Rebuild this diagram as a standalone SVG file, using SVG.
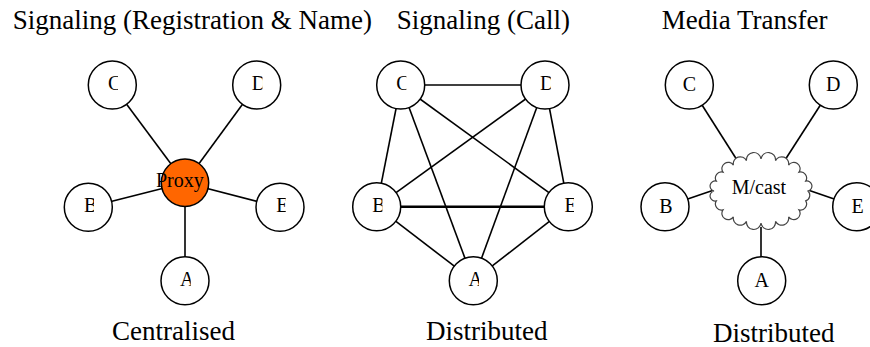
<svg xmlns="http://www.w3.org/2000/svg" width="870" height="347" viewBox="0 0 870 347">
<style>
.bg{fill:#ffffff}
.title{font-family:"Liberation Serif","Times New Roman",serif;font-size:27px;fill:#000}
.lbl{font-family:"Liberation Serif","Times New Roman",serif;font-size:20px;fill:#000;text-anchor:middle}
.plain{font-family:"Liberation Serif","Times New Roman",serif;font-size:20px;fill:#000}
.node{fill:#ffffff;stroke:#000;stroke-width:1.5}
.proxy{fill:#ff6600;stroke:#000;stroke-width:1.5}
.cloud{fill:#ffffff;stroke:#444;stroke-width:1.2}
.edge{stroke:#000;stroke-width:1.6;fill:none}
.thick{stroke-width:2.6}
</style>
<defs>
<clipPath id="lblclip" clipPathUnits="userSpaceOnUse"><rect x="-12" y="-14" width="17.7" height="26"/></clipPath>
</defs>
<rect class="bg" x="0" y="0" width="870" height="347"/>

<g id="titles">
<text class="title" x="12.7" y="29">Signaling (Registration &amp; Name)</text>
<text class="title" x="396.7" y="29">Signaling (Call)</text>
<text class="title" x="661.7" y="29">Media Transfer</text>
<text class="title" x="112" y="340">Centralised</text>
<text class="title" x="426" y="340">Distributed</text>
<text class="title" x="713" y="342">Distributed</text>
</g>

<g id="connectors">
<!-- panel 1 -->
<line class="edge" x1="112.3" y1="85" x2="185" y2="182.7"/>
<line class="edge" x1="256.7" y1="85" x2="185" y2="182.7"/>
<line class="edge" x1="88.3" y1="207.3" x2="185" y2="182.7"/>
<line class="edge" x1="280" y1="207.3" x2="185" y2="182.7"/>
<line class="edge" x1="185" y1="280.7" x2="185" y2="182.7"/>
<!-- panel 2 -->
<line class="edge" x1="400.7" y1="85" x2="545" y2="85"/>
<line class="edge" x1="400.7" y1="85" x2="376.7" y2="206.7"/>
<line class="edge" x1="400.7" y1="85" x2="473.3" y2="280.7"/>
<line class="edge" x1="400.7" y1="85" x2="568.3" y2="206.7"/>
<line class="edge" x1="545" y1="85" x2="376.7" y2="206.7"/>
<line class="edge" x1="545" y1="85" x2="473.3" y2="280.7"/>
<line class="edge" x1="545" y1="85" x2="568.3" y2="206.7"/>
<line class="edge thick" x1="376.7" y1="206.7" x2="568.3" y2="206.7"/>
<line class="edge" x1="376.7" y1="206.7" x2="473.3" y2="280.7"/>
<line class="edge" x1="568.3" y1="206.7" x2="473.3" y2="280.7"/>
<!-- panel 3 -->
<line class="edge" x1="689.3" y1="85" x2="737" y2="160"/>
<line class="edge" x1="833.3" y1="85" x2="785" y2="160"/>
<line class="edge" x1="665" y1="206.7" x2="714" y2="190"/>
<line class="edge" x1="856.7" y1="206.7" x2="808" y2="190"/>
<line class="edge" x1="761" y1="280.7" x2="761" y2="227"/>
</g>

<!-- panel 1 nodes -->
<g id="p1-C" transform="translate(112.3,85)"><circle class="node" r="24"/><text class="lbl" x="2.3" y="5" clip-path="url(#lblclip)">C</text></g>
<g id="p1-D" transform="translate(256.7,85)"><circle class="node" r="24"/><text class="lbl" x="2.3" y="5" clip-path="url(#lblclip)">D</text></g>
<g id="p1-B" transform="translate(88.3,207.3)"><circle class="node" r="24"/><text class="lbl" x="2.3" y="5" clip-path="url(#lblclip)">B</text></g>
<g id="p1-E" transform="translate(280,207.3)"><circle class="node" r="24"/><text class="lbl" x="2.3" y="5" clip-path="url(#lblclip)">E</text></g>
<g id="p1-A" transform="translate(185,280.7)"><circle class="node" r="24"/><text class="lbl" x="2.3" y="5" clip-path="url(#lblclip)">A</text></g>
<g id="p1-Proxy" transform="translate(185,182.7)"><circle class="proxy" r="23.7"/><text class="plain" x="-29" y="4">Proxy</text></g>

<!-- panel 2 nodes -->
<g id="p2-C" transform="translate(400.7,85)"><circle class="node" r="24"/><text class="lbl" x="2.3" y="5" clip-path="url(#lblclip)">C</text></g>
<g id="p2-D" transform="translate(545,85)"><circle class="node" r="24"/><text class="lbl" x="2.3" y="5" clip-path="url(#lblclip)">D</text></g>
<g id="p2-B" transform="translate(376.7,206.7)"><circle class="node" r="24"/><text class="lbl" x="2.3" y="5" clip-path="url(#lblclip)">B</text></g>
<g id="p2-E" transform="translate(568.3,206.7)"><circle class="node" r="24"/><text class="lbl" x="2.3" y="5" clip-path="url(#lblclip)">E</text></g>
<g id="p2-A" transform="translate(473.3,280.7)"><circle class="node" r="24"/><text class="lbl" x="2.3" y="5" clip-path="url(#lblclip)">A</text></g>

<!-- panel 3 nodes -->
<g id="p3-C" transform="translate(689.3,85)"><circle class="node" r="24"/><text class="lbl" x="0" y="6">C</text></g>
<g id="p3-D" transform="translate(833.3,85)"><circle class="node" r="24"/><text class="lbl" x="0" y="6">D</text></g>
<g id="p3-B" transform="translate(665,206.7)"><circle class="node" r="24"/><text class="lbl" x="1" y="6">B</text></g>
<g id="p3-E" transform="translate(856.7,206.7)"><circle class="node" r="24"/><text class="lbl" x="1" y="6">E</text></g>
<g id="p3-A" transform="translate(761.7,280.7)"><circle class="node" r="24"/><text class="lbl" x="0" y="6">A</text></g>
<g id="p3-Mcast">
<path class="cloud" d="M808,191 A6,6 0 0 1 805.7,200.9 A6,6 0 0 1 799,209.8 A6,6 0 0 1 788.6,216.9 A7,7 0 0 1 775.5,221.4 A7,7 0 0 1 761,223 A7,7 0 0 1 746.5,221.4 A7,7 0 0 1 733.4,216.9 A6,6 0 0 1 723,209.8 A6,6 0 0 1 716.3,200.9 A5,5 0 0 1 714,191 A5,5 0 0 1 716.3,181.1 A6,6 0 0 1 723,172.2 A6,6 0 0 1 733.4,165.1 A7,7 0 0 1 746.5,160.6 A7,7 0 0 1 761,159 A7,7 0 0 1 775.5,160.6 A7,7 0 0 1 788.6,165.1 A6,6 0 0 1 799,172.2 A6,6 0 0 1 805.7,181.1 A5,5 0 0 1 808,191 Z"/>
<text class="plain" x="731.7" y="194">M/cast</text>
</g>
</svg>
